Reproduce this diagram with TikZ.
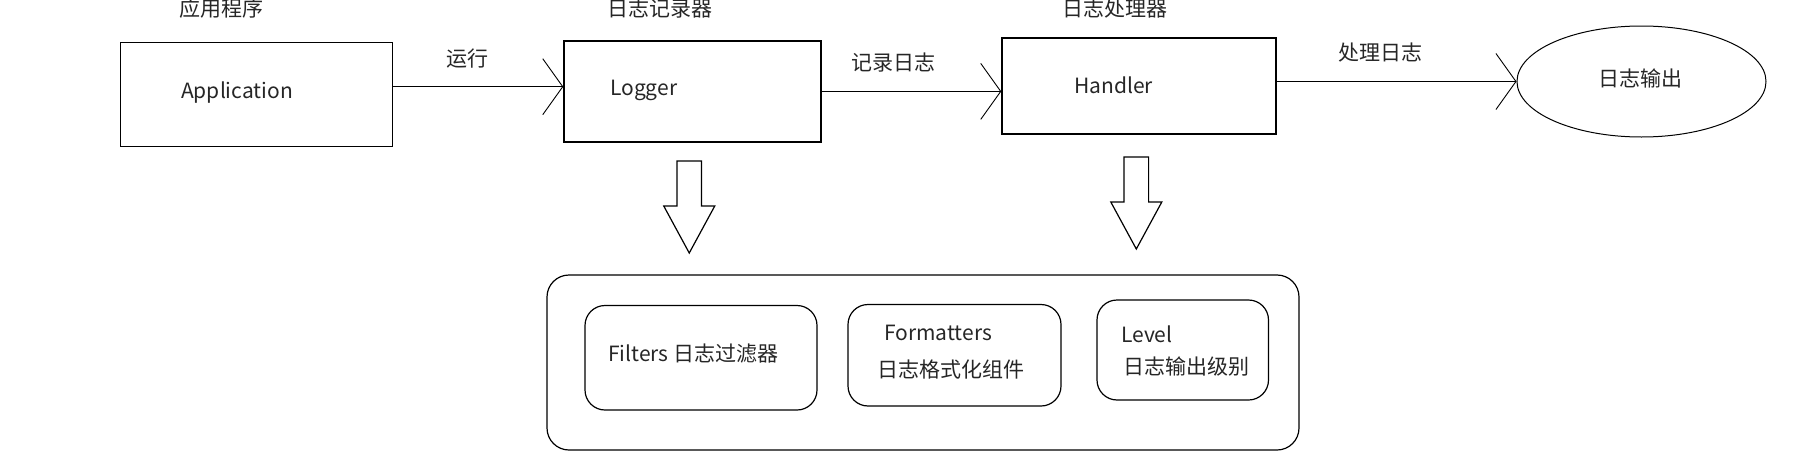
\documentclass[tikz,border=0pt]{standalone}
\usepackage{fontspec}
\setmainfont{Noto Sans CJK SC}
\usetikzlibrary{arrows.meta, shapes.geometric, positioning}

\begin{document}
\begin{tikzpicture}[x=1pt, y=-1pt, font=\fontsize{21}{25}\selectfont,
  box/.style={draw, line width=1.4pt, inner sep=0pt},
  part/.style={draw, line width=1.2pt, rounded corners=20pt, inner sep=0pt},
  txt/.style={inner sep=0pt, text=black!85},
  arr/.style={line width=1.4pt, -{Straight Barb[length=20pt, width=56pt, line width=0.9pt]}},
  hollow/.style={line width=1.2pt, line join=miter}]
\useasboundingbox (0,0) rectangle (1796,455);
% main chain
\node[box, minimum width=272pt, minimum height=104pt] (app) at (256.5,94.5) {};
\node[box, minimum width=257pt, minimum height=101pt] (logger) at (692.5,91.4) {};
\node[box, minimum width=274pt, minimum height=96pt] (handler) at (1139,86) {};
\node[draw, ellipse, line width=1pt, minimum width=249pt, minimum height=111pt, inner sep=0pt] (out) at (1641.5,81.5) {};
\node[txt] (outtxt) at (1640,78) {日志输出};
\node[txt, anchor=west] (apptxt) at (181,92.5) {Application};
\node[txt, anchor=west] (loggertxt) at (610,90.8) {Logger};
\node[txt, anchor=west] (handlertxt) at (1074,85.3) {Handler};
\node[txt] (apptitle) at (221,9) {应用程序};
\node[txt] (loggertitle) at (660,9) {日志记录器};
\node[txt] (handlertitle) at (1115,9) {日志处理器};
% connectors
\coordinate (run) at (0,86.7);
\draw[arr] (app.east |- run) -- (logger.west |- run);
\draw[arr] (logger.east) -- (handler.west |- logger.east);
\draw[arr] (handler.east |- out.west) -- (out.west);
\node[txt] (runlbl) at (467,59) {运行};
\node[txt] (loglbl) at (893.5,63) {记录日志};
\node[txt] (handlelbl) at (1380,53) {处理日志};
% components
\node[part, rounded corners=22pt, minimum width=752pt, minimum height=175pt] (group) at (923,362.5) {};
\node[part, minimum width=232pt, minimum height=104.5pt] (filters) at (701,357.75) {};
\node[part, minimum width=213pt, minimum height=101.5pt] (fmt) at (954.5,355.25) {};
\node[part, minimum width=171.5pt, minimum height=100pt] (level) at (1182.75,350) {};
\node[txt, anchor=west] (filterstxt) at (608,353.5) {Filters 日志过滤器};
\node[txt, anchor=west] (fmttxt) at (884,333) {Formatters};
\node[txt, anchor=west] (fmttxt2) at (877,370) {日志格式化组件};
\node[txt, anchor=west] (leveltxt) at (1121,334) {Level};
\node[txt, anchor=west] (leveltxt2) at (1123,367) {日志输出级别};
% hollow arrows
\foreach \cx/\ty in {689.25/161, 1136.3/157}
  \draw[hollow] (\cx-12.3,\ty) -- (\cx+12.3,\ty) -- (\cx+12.3,\ty+45) -- (\cx+25.5,\ty+45)
    -- (\cx,\ty+92) -- (\cx-25.5,\ty+45) -- (\cx-12.3,\ty+45) -- cycle;
\end{tikzpicture}
\end{document}
